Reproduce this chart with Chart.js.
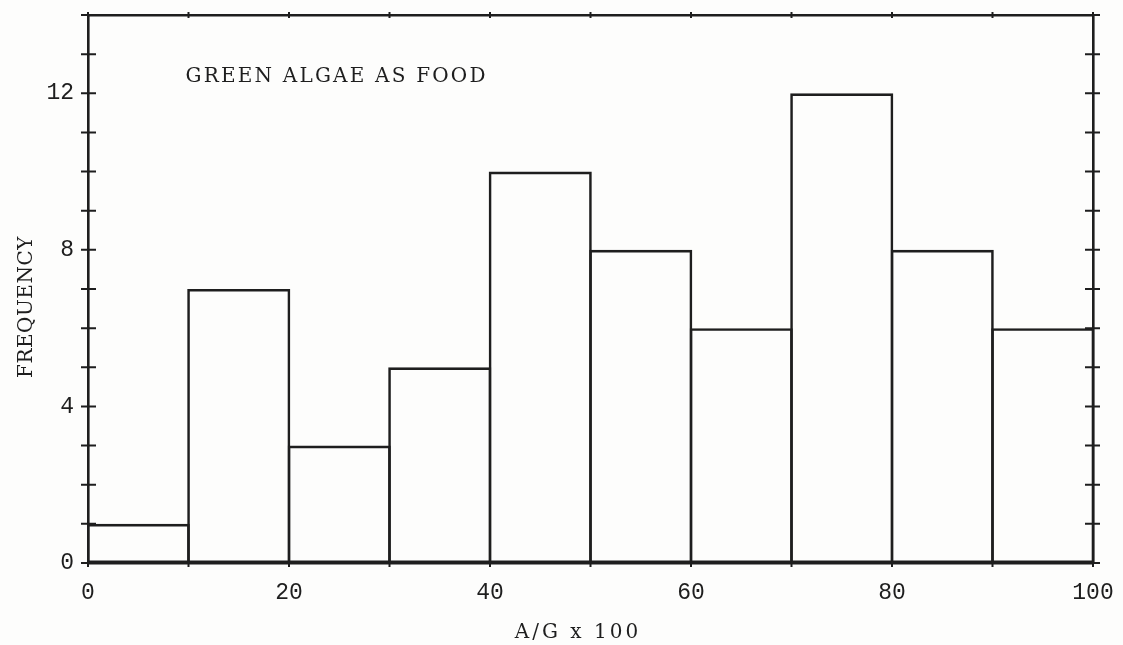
<!DOCTYPE html>
<html>
<head>
<meta charset="utf-8">
<script src="https://cdn.jsdelivr.net/npm/chart.js@4.4.1/dist/chart.umd.min.js"></script>
<style>
  html, body { margin: 0; padding: 0; background: #fdfdfc; }
  #wrap { width: 1123px; height: 645px; }
</style>
</head>
<body>
<div id="wrap"><canvas id="histo"></canvas></div>
<script>
// datos del histograma (clases de 10 en 10)
var binCenters = [5, 15, 25, 35, 45, 55, 65, 75, 85, 95];
var frequency = [1, 7, 3, 5, 10, 8, 6, 12, 8, 6];
var xTickLabels = [0, 20, 40, 60, 80, 100];
var yTickLabels = [0, 4, 8, 12];

var titleText = 'GREEN ALGAE AS FOOD';
var xTitleText = 'A/G x 100';
var yTitleText = 'FREQUENCY';

var ink = '#1e1e1e';
var lineW = 2.6;
var tickFont = { family: 'Liberation Mono', size: 23 };

// marcas que cruzan los ejes + textos
var axisMarks = {
    id: 'axisMarks',
    afterDraw: function (chart) {
        var ctx = chart.ctx;
        var a = chart.chartArea;
        var x = chart.scales.x;
        var y = chart.scales.y;
        ctx.save();
        ctx.strokeStyle = ink;
        ctx.lineWidth = 2;
        ctx.beginPath();
        y.ticks.forEach(function (t) {
            var py = y.getPixelForValue(t.value);
            ctx.moveTo(a.left - 7, py); ctx.lineTo(a.left + 8, py);
            ctx.moveTo(a.right - 8, py); ctx.lineTo(a.right + 7, py);
        });
        for (var v = 0; v <= 100; v += 10) {
            var px = x.getPixelForValue(v);
            ctx.moveTo(px, a.top - 3); ctx.lineTo(px, a.top + 3);
            ctx.moveTo(px, a.bottom); ctx.lineTo(px, a.bottom + 4);
        }
        ctx.stroke();

        ctx.fillStyle = ink;
        ctx.font = '20px "DejaVu Serif"';
        ctx.letterSpacing = '2.2px';
        ctx.textBaseline = 'middle';
        ctx.textAlign = 'left';
        ctx.fillText(titleText, x.getPixelForValue(9.7), y.getPixelForValue(12.42));

        ctx.textAlign = 'center';
        ctx.letterSpacing = '3px';
        ctx.fillText(xTitleText, 578, 633);

        ctx.letterSpacing = '0.5px';
        ctx.translate(27, 307);
        ctx.rotate(-Math.PI / 2);
        ctx.fillText(yTitleText, 0, 0);
        ctx.restore();
    }
};

function noPad(s) {
    s.paddingTop = 0; s.paddingBottom = 0; s.paddingLeft = 0; s.paddingRight = 0;
}

var ctx = document.getElementById('histo').getContext('2d');
var chart = new Chart(ctx, {
    type: 'bar',
    data: {
        datasets: [{
            data: binCenters.map(function (c, i) { return { x: c, y: frequency[i] }; }),
            backgroundColor: 'rgba(255,255,255,0)',
            borderColor: ink,
            borderWidth: lineW,
            borderSkipped: false,
            inflateAmount: 0,
            barPercentage: 1.026,
            categoryPercentage: 1
        }]
    },
    options: {
        responsive: true,
        maintainAspectRatio: false,
        animation: false,
        layout: { padding: { top: 15, right: 30, left: 0, bottom: 0 } },
        plugins: { legend: { display: false }, tooltip: { enabled: false } },
        scales: {
            x: {
                type: 'linear', position: 'bottom', min: 0, max: 100, offset: false,
                afterBuildTicks: function (s) { s.ticks = xTickLabels.map(function (v) { return { value: v }; }); },
                ticks: { font: tickFont, color: ink, padding: 16, maxRotation: 0 },
                grid: { display: false, drawTicks: false, offset: false },
                border: { color: ink, width: lineW },
                afterFit: function (s) { s.height = 82; noPad(s); }
            },
            y: {
                min: 0, max: 14,
                ticks: {
                    stepSize: 1, font: tickFont, color: ink, padding: 14,
                    callback: function (v) { return yTickLabels.indexOf(v) >= 0 ? v : ''; }
                },
                grid: { display: false, drawTicks: false },
                border: { color: ink, width: lineW },
                afterFit: function (s) { s.width = 88; noPad(s); }
            },
            x2: {
                type: 'linear', position: 'top', min: 0, max: 100, offset: false,
                ticks: { display: false },
                grid: { display: false, drawTicks: false, offset: false },
                border: { color: ink, width: lineW },
                afterFit: function (s) { s.height = 0; noPad(s); }
            },
            y2: {
                type: 'linear', position: 'right', min: 0, max: 14,
                ticks: { display: false },
                grid: { display: false, drawTicks: false },
                border: { color: ink, width: lineW },
                afterFit: function (s) { s.width = 0; noPad(s); }
            }
        }
    },
    plugins: [axisMarks]
});
</script>
</body>
</html>
